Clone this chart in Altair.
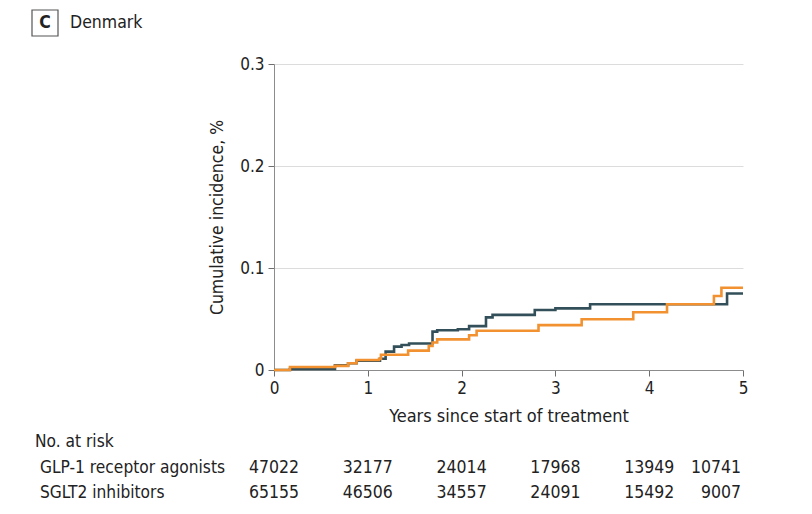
import altair as alt
import pandas as pd

# GLP-1 receptor agonists (dark) step curve
glp_t = [0, 0.17, 0.65, 0.79, 0.88, 1.13, 1.19, 1.28, 1.36, 1.44, 1.69, 1.74, 1.96, 2.08, 2.26, 2.33, 2.78, 3.0, 3.37, 4.83, 5]
glp_v = [0, 0.001, 0.0045, 0.0066, 0.009, 0.011, 0.018, 0.0229, 0.0245, 0.026, 0.0376, 0.039, 0.040, 0.043, 0.0516, 0.054, 0.0588, 0.0604, 0.0644, 0.075, 0.075]
# SGLT2 inhibitors (orange) step curve
sglt_t = [0, 0.17, 0.65, 0.79, 0.88, 1.12, 1.14, 1.43, 1.65, 1.69, 1.74, 2.08, 2.16, 2.82, 3.28, 3.83, 4.19, 4.69, 4.77, 5]
sglt_v = [0, 0.003, 0.004, 0.0066, 0.0098, 0.011, 0.015, 0.019, 0.0235, 0.027, 0.030, 0.034, 0.0385, 0.044, 0.0497, 0.0566, 0.0644, 0.0725, 0.0807, 0.0807]

years = [0, 1, 2, 3, 4, 5]
risk_glp = [47022, 32177, 24014, 17968, 13949, 10741]
risk_sglt = [65155, 46506, 34557, 24091, 15492, 9007]
groups = ["GLP-1 receptor agonists", "SGLT2 inhibitors"]

DARK = "#33505a"
ORANGE = "#f29130"
FONT = "'DejaVu Sans Condensed', 'Liberation Sans Narrow', Roboto, sans-serif"

glp_df = pd.DataFrame({"t": glp_t, "v": glp_v})
sglt_df = pd.DataFrame({"t": sglt_t, "v": sglt_v})

xscale = alt.Scale(domain=[0, 5], nice=False)
yscale = alt.Scale(domain=[0, 0.3], nice=False)

xaxis = alt.Axis(title="Years since start of treatment", values=years, format="d",
                 grid=False, domainColor="#8c8c8c", tickColor="#6e6e6e", tickSize=6,
                 labelFontSize=17, titleFontSize=18, titleFontWeight="normal", labelFlush=False,
                 labelColor="#222", titleColor="#222", labelPadding=4, titlePadding=11)
yaxis = alt.Axis(title="Cumulative incidence, %", values=[0, 0.1, 0.2, 0.3],
                 labelExpr="datum.value == 0 ? '0' : format(datum.value, '.1f')",
                 grid=True, gridColor="#dcdcdc", domainColor="#8c8c8c", tickColor="#6e6e6e",
                 tickSize=6, labelFontSize=17, titleFontSize=17.5, titleFontWeight="normal",
                 labelColor="#222", titleColor="#222", labelPadding=4, titlePadding=13)

base_glp = alt.Chart(glp_df).mark_line(interpolate="step-after", color=DARK, strokeWidth=2.6).encode(
    x=alt.X("t:Q", scale=xscale, axis=xaxis),
    y=alt.Y("v:Q", scale=yscale, axis=yaxis),
)
base_sglt = alt.Chart(sglt_df).mark_line(interpolate="step-after", color=ORANGE, strokeWidth=2.6).encode(
    x=alt.X("t:Q", scale=xscale),
    y=alt.Y("v:Q", scale=yscale),
)

rows = []
for i, y in enumerate(years):
    rows.append({"t": y, "n": f"{risk_glp[i]}", "row": 0})
    rows.append({"t": y, "n": f"{risk_sglt[i]}", "row": 1})
risk_df = pd.DataFrame(rows)

NUMSIZE = 17.5
layers = []
for r, ypx in [(0, 404), (1, 429)]:
    sub_c = risk_df[(risk_df.row == r) & (risk_df.t < 5)]
    sub_r = risk_df[(risk_df.row == r) & (risk_df.t == 5)]
    layers.append(alt.Chart(sub_c).mark_text(align="center", baseline="middle", fontSize=NUMSIZE, color="#222", font=FONT).encode(
        x=alt.X("t:Q", scale=xscale), y=alt.value(ypx), text="n:N"))
    layers.append(alt.Chart(sub_r).mark_text(align="right", baseline="middle", fontSize=NUMSIZE, color="#222", font=FONT, dx=-2).encode(
        x=alt.X("t:Q", scale=xscale), y=alt.value(ypx), text="n:N"))

labels_df = pd.DataFrame({"label": ["No. at risk"] + groups, "yy": [378, 404, 429], "xx": [-239, -234, -234]})
row_labels = alt.Chart(labels_df).mark_text(align="left", baseline="middle", fontSize=17.2, color="#222", font=FONT).encode(
    x=alt.X("xx:Q", scale=None), y=alt.Y("yy:Q", scale=None), text="label:N")

box = alt.Chart(pd.DataFrame({"a": [0]})).mark_rect(fill="white", stroke="#555", strokeWidth=1.2).encode(
    x=alt.value(-242), x2=alt.value(-216), y=alt.value(-54), y2=alt.value(-28))
letter = alt.Chart(pd.DataFrame({"s": ["C"]})).mark_text(fontSize=17.5, fontWeight="bold", font=FONT, color="#222", baseline="middle").encode(
    x=alt.value(-229), y=alt.value(-41), text="s:N")
panel = alt.Chart(pd.DataFrame({"s": ["Denmark"]})).mark_text(fontSize=17.5, font=FONT, color="#222", align="left", baseline="middle").encode(
    x=alt.value(-204), y=alt.value(-41), text="s:N")

chart = alt.layer(base_glp, base_sglt, *layers, row_labels, box, letter, panel).properties(
    width=469, height=306,
    autosize=alt.AutoSizeParams(type="none"),
    padding={"left": 266, "top": 56, "right": 61, "bottom": 136},
).configure(font=FONT).configure_view(stroke=None)

chart.save("out.html", embed_options={"renderer": "svg", "actions": False})
